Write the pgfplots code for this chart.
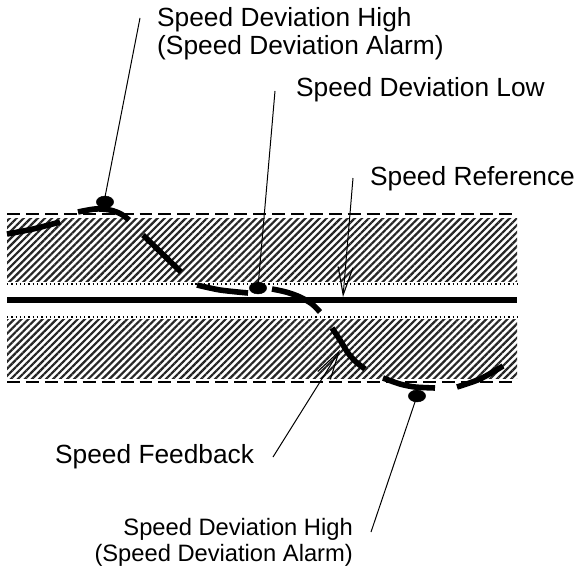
\documentclass[border=0pt]{standalone}
\usepackage{pgfplots}
\pgfplotsset{compat=1.18}
\usepackage{fontspec}
\setmainfont{Liberation Sans}
\usetikzlibrary{patterns.meta,arrows.meta}

\begin{document}
\begin{tikzpicture}
\begin{axis}[
  scale only axis, width=577bp, height=566bp,
  xmin=0, xmax=577, ymin=0, ymax=566, y dir=reverse,
  hide axis, clip=false,
]
\coordinate (bl) at (axis cs:0,566);
\coordinate (tr) at (axis cs:577,0);
% hatched bands
\addplot[draw=none, pattern={Lines[angle=45,distance=5pt,line width=2.2pt]}, pattern color=black!85]
  coordinates {(7,218) (517,218) (517,281) (7,281)} -- cycle;
\addplot[draw=none, pattern={Lines[angle=45,distance=5pt,line width=2.2pt]}, pattern color=black!85]
  coordinates {(7,319) (517,319) (517,378) (7,378)} -- cycle;
% limit lines
\addplot[black, line width=1.6pt, dash pattern=on 13pt off 6pt] coordinates {(7,214) (517,214)};
\addplot[black, line width=1.6pt, dash pattern=on 13pt off 6pt] coordinates {(7,382) (517,382)};
\addplot[black, line width=1.2pt, dash pattern=on 1.3pt off 3pt] coordinates {(7,284) (517,284)};
\addplot[black, line width=1.2pt, dash pattern=on 1.3pt off 3pt] coordinates {(7,317) (517,317)};
% speed reference
\addplot[black, line width=6pt] coordinates {(7,300) (517,300)};
% speed feedback (dashed thick curve)
\pgfplotsset{fb/.style={black, line width=5.6pt, line cap=butt, smooth}}
\addplot[fb] coordinates {(7,234) (33,229) (60,222)};
\addplot[fb] coordinates {(78,212) (95,209) (110,210) (121,214) (129,220)};
\addplot[fb] coordinates {(143,235) (181,272)};
\addplot[fb] coordinates {(197,285) (220,290) (248,293)};
\addplot[fb] coordinates {(272,289) (286,292) (300,297) (312,304) (320,312)};
\addplot[fb] coordinates {(332,328) (340,340) (348,353) (356,362) (365,369)};
\addplot[fb] coordinates {(383,378) (400,384) (415,387) (435,388)};
\addplot[fb] coordinates {(457,387) (480,379) (503,366)};
% leader lines
\addplot[black, line width=1pt] coordinates {(105,197) (140,18)};
\addplot[black, line width=1pt] coordinates {(258,287) (275,91)};
\addplot[black, line width=1pt, -{Straight Barb[length=28pt,width=15pt,line width=1.1pt]}] coordinates {(353,178) (343,297)};
\addplot[black, line width=1pt, -{Straight Barb[length=28pt,width=15pt,line width=1.1pt]}] coordinates {(273,457) (340,350)};
\addplot[black, line width=1pt] coordinates {(371,532) (417,396)};
% alarm points
\addplot[only marks, mark=*, mark size=6pt, mark options={xscale=1.45, fill=black}]
  coordinates {(105,202) (258,288) (417,396)};
% labels
\node[anchor=base west, inner sep=0, font=\fontsize{26.4}{28}\selectfont] at (axis cs:157,27) {Speed Deviation High};
\node[anchor=base west, inner sep=0, font=\fontsize{26.4}{28}\selectfont] at (axis cs:157,55) {(Speed Deviation Alarm)};
\node[anchor=base west, inner sep=0, font=\fontsize{26.4}{28}\selectfont] at (axis cs:296,97) {Speed Deviation Low};
\node[anchor=base west, inner sep=0, font=\fontsize{26.4}{28}\selectfont] at (axis cs:370,185) {Speed Reference};
\node[anchor=base west, inner sep=0, font=\fontsize{26.4}{28}\selectfont] at (axis cs:55,463) {Speed Feedback};
\node[anchor=base east, inner sep=0, font=\fontsize{23.8}{26}\selectfont] at (axis cs:353,535) {Speed Deviation High};
\node[anchor=base east, inner sep=0, font=\fontsize{23.8}{26}\selectfont] at (axis cs:353,561) {(Speed Deviation Alarm)};
\end{axis}
\pgfresetboundingbox
\path (bl) rectangle (tr);
\end{tikzpicture}
\end{document}
